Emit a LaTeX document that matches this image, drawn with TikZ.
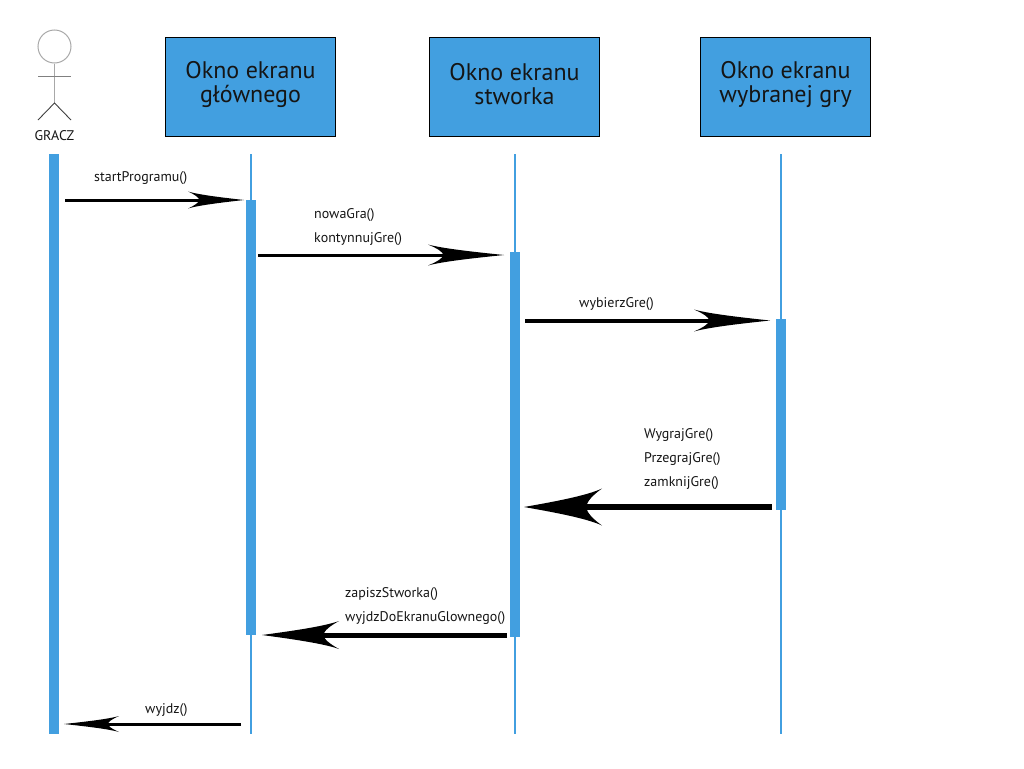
\documentclass[tikz,border=0pt]{standalone}
\usepackage{fontspec}
\setmainfont{PT Sans}
\usetikzlibrary{arrows.meta}
\definecolor{lifeblue}{HTML}{429FE0}
\definecolor{actorgray}{HTML}{A8A8A8}
\definecolor{inktext}{HTML}{151515}
\pgfdeclarearrow{
  name = Barb,
  defaults = {length=50pt, width=16pt},
  setup code = {
    \pgfarrowssettipend{0pt}
    \pgfarrowssetlineend{-0.5\pgfarrowlength}
    \pgfarrowssetvisualbackend{-\pgfarrowlength}
    \pgfarrowssavethe\pgfarrowlength
    \pgfarrowssavethe\pgfarrowwidth
  },
  drawing code = {
    \pgfpathmoveto{\pgfpoint{0pt}{0pt}}
    \pgfpathcurveto{\pgfpoint{-0.35\pgfarrowlength}{0.13\pgfarrowwidth}}
                   {\pgfpoint{-0.8\pgfarrowlength}{0.3\pgfarrowwidth}}
                   {\pgfpoint{-\pgfarrowlength}{0.5\pgfarrowwidth}}
    \pgfpathcurveto{\pgfpoint{-0.88\pgfarrowlength}{0.32\pgfarrowwidth}}
                   {\pgfpoint{-0.8\pgfarrowlength}{0.14\pgfarrowwidth}}
                   {\pgfpoint{-0.8\pgfarrowlength}{0pt}}
    \pgfpathcurveto{\pgfpoint{-0.8\pgfarrowlength}{-0.14\pgfarrowwidth}}
                   {\pgfpoint{-0.88\pgfarrowlength}{-0.32\pgfarrowwidth}}
                   {\pgfpoint{-\pgfarrowlength}{-0.5\pgfarrowwidth}}
    \pgfpathcurveto{\pgfpoint{-0.8\pgfarrowlength}{-0.3\pgfarrowwidth}}
                   {\pgfpoint{-0.35\pgfarrowlength}{-0.13\pgfarrowwidth}}
                   {\pgfpoint{0pt}{0pt}}
    \pgfpathclose
    \pgfusepathqfill
  },
  parameters = {\the\pgfarrowlength,\the\pgfarrowwidth}
}
\tikzset{
  x=1pt, y=-1pt,
  screenbox/.style={draw=black, line width=1pt, fill=lifeblue, minimum width=170pt, minimum height=99pt,
    inner sep=0pt},
  screentext/.style={inner sep=0pt, align=center, text=inktext, font=\fontsize{24}{24}\selectfont},
  lifeline/.style={draw=lifeblue, line width=2pt},
  bar/.style={fill=lifeblue, minimum width=10pt, inner sep=0pt, outer sep=0pt},
  msg/.style={anchor=base west, inner sep=0pt, text=inktext, font=\fontsize{14}{15}\selectfont},
  call/.style={draw=black, line cap=butt},
  stick/.style={draw=actorgray, line width=1pt},
}
\begin{document}
\begin{tikzpicture}
\useasboundingbox (0,0) rectangle (1024,768);
\coordinate (l1t) at (250.5,154); \coordinate (l1b) at (250.5,734);
\coordinate (l2t) at (515,154);   \coordinate (l2b) at (515,734);
\coordinate (l3t) at (781,154);   \coordinate (l3b) at (781,734);
\draw[lifeline] (l1t) -- (l1b);
\draw[lifeline] (l2t) -- (l2b);
\draw[lifeline] (l3t) -- (l3b);
\node[bar, minimum height=580pt] (b0) at (54,444) {};
\node[bar, minimum height=435pt] (b1) at (251,417.5) {};
\node[bar, minimum height=385pt] (b2) at (515,444.5) {};
\node[bar, minimum height=191pt] (b3) at (781,414.5) {};
\node[screenbox] (s1) at (250.5,87) {};
\node[screenbox] (s2) at (514.5,87) {};
\node[screenbox] (s3) at (785.5,87) {};
\node[screentext] (s1t) at (250.5,84) {Okno ekranu\\głównego};
\node[screentext] (s2t) at (514.5,84.5) {Okno ekranu\\stworka};
\node[screentext] (s3t) at (785.5,84) {Okno ekranu\\wybranej gry};
\node[draw=actorgray, line width=1pt, circle, minimum size=33pt, inner sep=0pt] (head) at (54.5,46.5) {};
\coordinate (hip) at (54.5,103);
\coordinate (armL) at (38,76); \coordinate (armR) at (71,76);
\coordinate (footL) at (38,120); \coordinate (footR) at (71,120);
\draw[stick] (head.south) -- (hip);
\draw[draw=gray, line width=1pt] (armL) -- (armR);
\draw[draw=black!75, line width=0.9pt] (footL) -- (hip) -- (footR);
\node[anchor=base, inner sep=0pt, text=inktext, font=\fontsize{14}{15}\selectfont] (gracz) at (54.5,140) {GRACZ};
\coordinate (a1s) at (65,200);    \coordinate (a1e) at (244,200);
\coordinate (a2s) at (258,255);   \coordinate (a2e) at (504,255);
\coordinate (a3s) at (525,320.5); \coordinate (a3e) at (770,320.5);
\coordinate (a4s) at (772,507);   \coordinate (a4e) at (524,507);
\coordinate (a5s) at (507,635);   \coordinate (a5e) at (262,635);
\coordinate (a6s) at (241,724);   \coordinate (a6e) at (64,724);
\draw[call, line width=3pt, -{Barb[length=56pt,width=17pt]}] (a1s) -- (a1e);
\draw[call, line width=3pt, -{Barb[length=76pt,width=21pt]}] (a2s) -- (a2e);
\draw[call, line width=4pt, -{Barb[length=76pt,width=22pt]}] (a3s) -- (a3e);
\draw[call, line width=6pt, -{Barb[length=78pt,width=37pt]}] (a4s) -- (a4e);
\draw[call, line width=5pt, -{Barb[length=77pt,width=28pt]}] (a5s) -- (a5e);
\draw[call, line width=3pt, -{Barb[length=55pt,width=16pt]}] (a6s) -- (a6e);
\node[msg] (t1) at (94,181.5) {startProgramu()};
\node[msg] (t2) at (314,218.5) {nowaGra()};
\node[msg] (t3) at (314,242.5) {kontynnujGre()};
\node[msg] (t4) at (579,307.5) {wybierzGre()};
\node[msg] (t5) at (644,438.5) {WygrajGre()};
\node[msg] (t6) at (644,462.5) {PrzegrajGre()};
\node[msg] (t7) at (644,486.5) {zamknijGre()};
\node[msg] (t8) at (345,597.5) {zapiszStworka()};
\node[msg] (t9) at (345,621.5) {wyjdzDoEkranuGlownego()};
\node[msg] (t10) at (145,713.5) {wyjdz()};
\end{tikzpicture}
\end{document}
